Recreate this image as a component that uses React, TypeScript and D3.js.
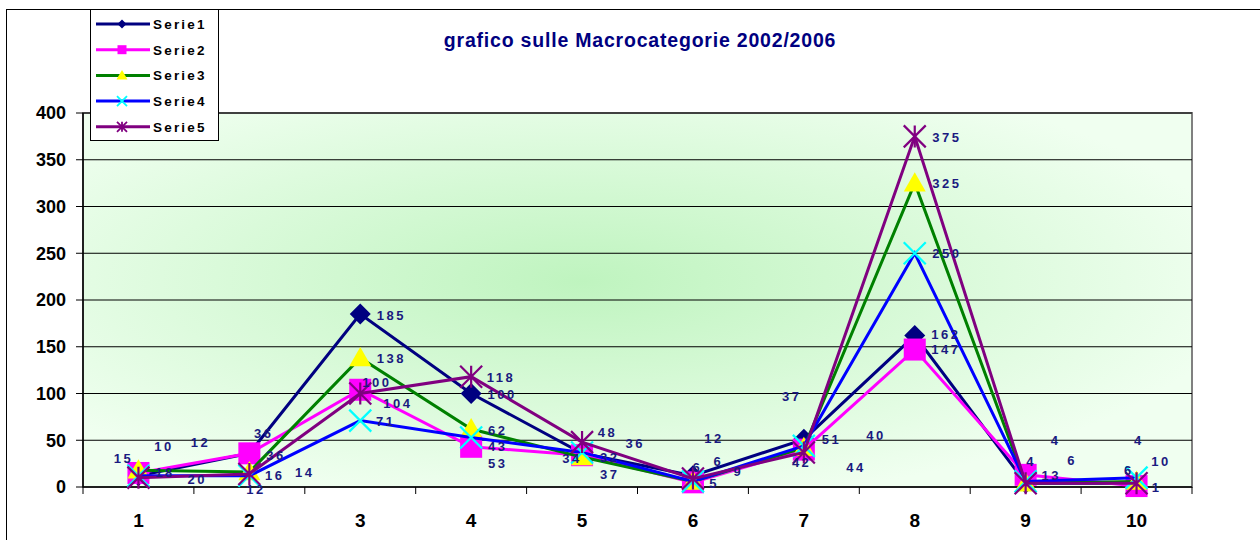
import React from "react";
import * as d3 from "d3";

const categories = [1, 2, 3, 4, 5, 6, 7, 8, 9, 10];
const seriesNames = ["Serie1", "Serie2", "Serie3", "Serie4", "Serie5"];
const serie1 = [12, 36, 185, 100, 36, 12, 51, 162, 4, 4];
const serie2 = [15, 36, 104, 43, 34, 5, 40, 147, 13, 1];
const serie3 = [18, 16, 138, 62, 32, 6, 42, 325, 4, 6];
const serie4 = [12, 12, 71, 53, 37, 6, 44, 250, 6, 10];
const serie5 = [10, 14, 100, 118, 48, 9, 37, 375, 4, 4];
const yTicks = [0, 50, 100, 150, 200, 250, 300, 350, 400];
const title = "grafico sulle Macrocategorie 2002/2006";

// data labels: [category position, value position, text]
const dataLabels: [number, number, string][] = [
  [0.865, 31, "15"], [1.23, 43, "10"], [1.56, 48, "12"], [1.24, 16, "18"], [1.53, 8.5, "20"],
  [2.13, 57, "36"], [2.24, 34, "36"], [2.23, 13, "16"], [2.5, 16, "14"], [2.06, -3, "12"],
  [3.28, 184, "185"], [3.28, 138, "138"], [3.15, 112, "100"], [3.34, 90, "104"], [3.23, 70, "71"],
  [4.27, 117, "118"], [4.28, 99, "100"], [4.24, 61, "62"], [4.24, 43, "43"], [4.24, 25, "53"],
  [5.23, 59, "48"], [5.48, 47, "36"], [4.91, 31, "34"], [5.25, 32, "32"], [5.25, 14, "37"],
  [6.19, 52, "12"], [6.04, 21, "6"], [6.23, 27, "6"], [6.41, 17, "9"], [6.19, 4, "5"],
  [6.89, 97, "37"], [7.25, 51, "51"], [7.65, 55, "40"], [6.98, 26, "42"], [7.47, 21, "44"],
  [8.29, 374, "375"], [8.29, 325, "325"], [8.29, 250, "250"], [8.28, 163, "162"], [8.28, 147, "147"],
  [9.27, 50, "4"], [9.42, 29, "6"], [9.05, 27, "4"], [9.23, 12, "13"],
  [10.02, 50, "4"], [10.22, 27, "10"], [9.93, 18, "6"], [10.18, 0, "1"],
];

const allSeries = [serie1, serie2, serie3, serie4, serie5];
const lineColors = ["#000080", "#FF00FF", "#008000", "#0000FF", "#800080"];

function Marker({ kind, x, y, s }: { kind: number; x: number; y: number; s: number }) {
  const h = s / 2;
  if (kind === 0)
    return <path d={`M${x},${y - h}L${x + h},${y}L${x},${y + h}L${x - h},${y}Z`} fill="#000080" />;
  if (kind === 1)
    return <rect x={x - h} y={y - h} width={s} height={s} fill="#FF00FF" />;
  if (kind === 2)
    return <path d={`M${x},${y - h}L${x + h},${y + h * 0.75}L${x - h},${y + h * 0.75}Z`} fill="#FFFF00" />;
  if (kind === 3)
    return (
      <path
        d={`M${x - h},${y - h}L${x + h},${y + h}M${x + h},${y - h}L${x - h},${y + h}`}
        stroke="#00FFFF"
        strokeWidth={s > 12 ? 2.2 : 1.8}
        fill="none"
      />
    );
  return (
    <path
      d={`M${x - h},${y - h}L${x + h},${y + h}M${x + h},${y - h}L${x - h},${y + h}M${x},${y - h}L${x},${y + h}`}
      stroke="#800080"
      strokeWidth={s > 12 ? 2.2 : 1.8}
      fill="none"
    />
  );
}

export default function App() {
  const W = 1260, H = 540;
  const left = 83, right = 1192, top = 113, bottom = 487;
  const x = d3.scaleLinear().domain([0.5, 10.5]).range([left, right]);
  const y = d3.scaleLinear().domain([0, 400]).range([bottom, top]);
  const line = d3
    .line<number>()
    .x((_, i) => x(categories[i]))
    .y((d) => y(d));
  const markerSizes = [21, 22, 22, 22, 22];
  const legendSizes = [9, 9, 11, 10, 10];
  const font = "Arial, 'Liberation Sans', sans-serif";
  return (
    <svg width={W} height={H} style={{ position: "absolute", left: 0, top: 0 }} fontFamily={font}>
      <defs>
        <radialGradient id="pg" cx="0.45" cy="0.45" r="0.6">
          <stop offset="0" stopColor="#bff4bf" />
          <stop offset="1" stopColor="#f0fff0" />
        </radialGradient>
      </defs>
      <rect x={0} y={0} width={W} height={H} fill="#ffffff" />
      <rect x={6.5} y={9.5} width={W + 20} height={H + 20} fill="#ffffff" stroke="#000" strokeWidth={1} />
      <rect x={left} y={top} width={right - left} height={bottom - top} fill="url(#pg)" stroke="#808080" strokeWidth={2} />
      {yTicks.slice(1).map((t) => (
        <line key={t} x1={left} x2={right} y1={y(t)} y2={y(t)} stroke="#000" strokeWidth={1} />
      ))}
      {/* axes */}
      <line x1={left} x2={left} y1={top} y2={bottom} stroke="#000" strokeWidth={1.5} />
      <line x1={left} x2={right} y1={bottom} y2={bottom} stroke="#000" strokeWidth={1.5} />
      {yTicks.map((t) => (
        <g key={t}>
          <line x1={left - 7} x2={left} y1={y(t)} y2={y(t)} stroke="#000" strokeWidth={1} />
          <text x={66} y={y(t)} dy="0.36em" textAnchor="end" fontSize={18} fontWeight="bold" fill="#000">
            {t}
          </text>
        </g>
      ))}
      {d3.range(0, 11).map((i) => (
        <line key={i} x1={x(i + 0.5)} x2={x(i + 0.5)} y1={bottom} y2={bottom + 7} stroke="#000" strokeWidth={1} />
      ))}
      {categories.map((c) => (
        <text key={c} x={x(c)} y={527} textAnchor="middle" fontSize={19} fontWeight="bold" fill="#000">
          {c}
        </text>
      ))}
      {/* series */}
      {allSeries.map((s, si) => (
        <g key={si}>
          <path d={line(s) || ""} fill="none" stroke={lineColors[si]} strokeWidth={3} />
          {s.map((v, i) => (
            <Marker key={i} kind={si} x={x(categories[i])} y={y(v)} s={markerSizes[si]} />
          ))}
        </g>
      ))}
      {/* data labels */}
      {dataLabels.map(([cx, cy, t], i) => (
        <text
          key={i}
          x={x(cx)}
          y={y(cy)}
          dy="0.36em"
          textAnchor="middle"
          fontSize={13}
          fontWeight="bold"
          fill="#1a1a80"
          letterSpacing={2.5}
        >
          {t}
        </text>
      ))}
      {/* title */}
      <text x={640} y={47} textAnchor="middle" fontSize={19.5} fontWeight="bold" fill="#000080" letterSpacing={0.8}>
        {title}
      </text>
      {/* legend */}
      <rect x={90.5} y={9.5} width={128} height={131} fill="#ffffff" stroke="#000" strokeWidth={1} />
      {seriesNames.map((n, i) => {
        const ly = 24 + i * 25.7;
        return (
          <g key={n}>
            <line x1={96} x2={150} y1={ly} y2={ly} stroke={lineColors[i]} strokeWidth={3} />
            <Marker kind={i} x={122} y={ly} s={legendSizes[i]} />
            <text x={153} y={ly} dy="0.36em" fontSize={13.5} fontWeight="bold" fill="#000" letterSpacing={2.2}>
              {n}
            </text>
          </g>
        );
      })}
    </svg>
  );
}
